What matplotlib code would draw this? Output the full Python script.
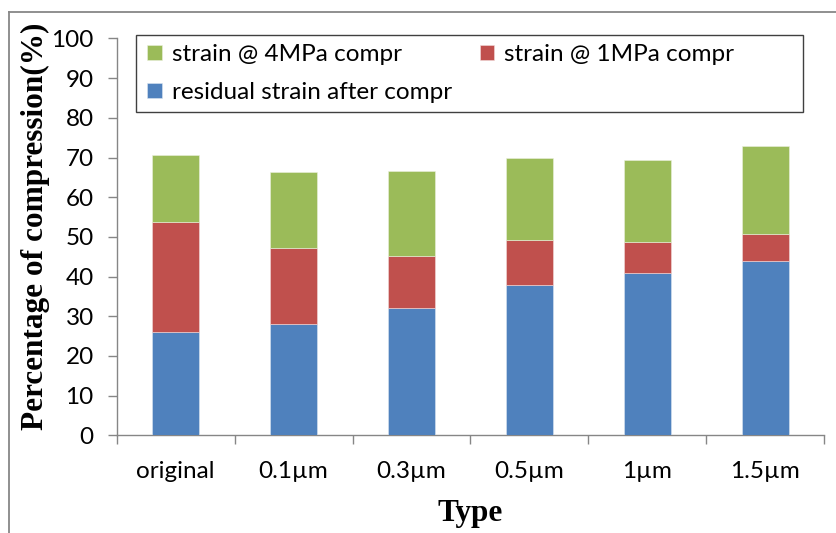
import matplotlib
matplotlib.use("Agg")
import matplotlib.pyplot as plt
from matplotlib.lines import Line2D
from matplotlib.patches import Rectangle
import numpy as np

categories = ['original', '0.1µm', '0.3µm', '0.5µm', '1µm', '1.5µm']
residual_strain = [26.0, 28.0, 32.0, 38.0, 41.0, 44.0]
strain_1mpa = [53.8, 47.3, 45.1, 49.2, 48.6, 50.8]
strain_4mpa = [70.6, 66.3, 66.6, 69.8, 69.5, 72.8]
yticks = [0, 10, 20, 30, 40, 50, 60, 70, 80, 90, 100]

W, H = 837, 533
fig = plt.figure(figsize=(W / 100, H / 100), dpi=100)
fig.patch.set_facecolor('white')

def fx(px):
    return px / W

def fy(py):
    return 1 - py / H

ax = fig.add_axes([fx(116.7), fy(435.3), fx(824.3) - fx(116.7), fy(38.5) - fy(435.3)])

blue = '#4F81BD'
red = '#C0504D'
green = '#9BBB59'
grey = '#868686'
sans = ['Lato', 'DejaVu Sans']
fs = 17.5

x = np.arange(len(categories))
res = np.array(residual_strain)
s1 = np.array(strain_1mpa)
s4 = np.array(strain_4mpa)
w = 0.4
b_blue = ax.bar(x, res, w, color=blue, edgecolor='#dbe5f1', linewidth=0.4,
                label='residual strain after compr', zorder=3)
b_red = ax.bar(x, s1 - res, w, bottom=res, color=red, edgecolor='#f2dcdb', linewidth=0.4,
               label='strain @ 1MPa compr', zorder=3)
b_green = ax.bar(x, s4 - s1, w, bottom=s1, color=green, edgecolor='#ebf1de', linewidth=0.4,
                 label='strain @ 4MPa compr', zorder=3)

ax.set_xlim(-0.5, len(categories) - 0.5)
ax.set_ylim(0, 100)
ax.set_yticks(yticks)
ax.set_yticklabels([str(v) for v in yticks], fontfamily=sans, fontsize=fs)
ax.set_xticks(x)
ax.set_xticklabels(categories, fontfamily=sans, fontsize=fs)
ax.set_xticks(np.arange(len(categories) + 1) - 0.5, minor=True)
ax.tick_params(axis='x', which='major', length=0, pad=18.5)
ax.tick_params(axis='x', which='minor', length=6.5, width=1, color=grey, direction='out')
ax.tick_params(axis='y', which='major', length=6.5, width=1, color=grey, direction='out', pad=10)
for s in ['top', 'right']:
    ax.spines[s].set_visible(False)
for s in ['left', 'bottom']:
    ax.spines[s].set_color(grey)
    ax.spines[s].set_linewidth(1)

fig.text(fx(35), fy(226), 'Percentage of compression(%)', rotation=90,
         ha='center', va='center', fontfamily='Liberation Serif', fontweight='bold', fontsize=22.5)
fig.text(fx(470.5), fy(513), 'Type', ha='center', va='center',
         fontfamily='Liberation Serif', fontweight='bold', fontsize=22.5)

# legend box
box = Rectangle((fx(136), fy(112)), fx(802.7) - fx(136), fy(35) - fy(112),
                transform=fig.transFigure, facecolor='white', edgecolor='#404040',
                linewidth=1, zorder=5, clip_on=False)
ax.add_patch(box)
leg = ax.legend(handles=[b_green, b_blue, b_red],
                labels=['strain @ 4MPa compr', 'residual strain after compr', 'strain @ 1MPa compr'],
                ncol=2, loc='upper left', bbox_to_anchor=(fx(140), fy(37)),
                bbox_transform=fig.transFigure, frameon=False,
                prop={'family': sans, 'size': fs},
                handlelength=0.6, handleheight=0.6, handletextpad=0.4,
                labelspacing=0.7, columnspacing=1.15, borderpad=0.3, borderaxespad=0)
leg.set_zorder(6)

# outer chart border
fig.add_artist(Line2D([fx(9), fx(9)], [fy(12), 0], transform=fig.transFigure, color='#878787', linewidth=1.3))
fig.add_artist(Line2D([fx(9), 1], [fy(12), fy(12)], transform=fig.transFigure, color='#878787', linewidth=1.3))

fig.savefig('out.png', dpi=100)
